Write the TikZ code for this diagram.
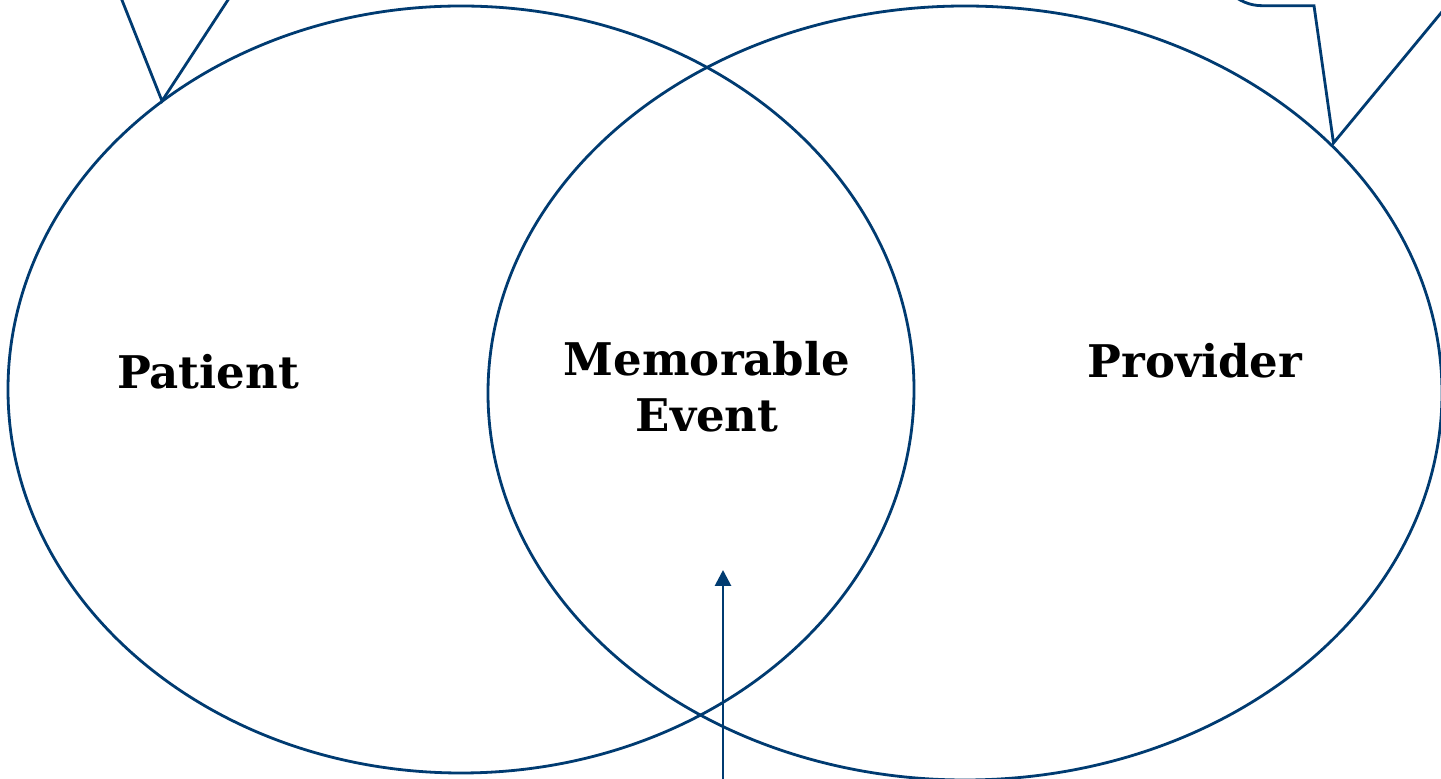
\documentclass[tikz,border=0pt]{standalone}
\usepackage{fontspec}
\setmainfont{DejaVu Serif}
\usepackage{tikz}
\usetikzlibrary{arrows.meta,shapes.geometric}
\definecolor{navy}{HTML}{003B71}
\tikzset{
  >=Latex,
  every node/.style={text=black},
  venn/.style={ellipse,draw=navy,line width=1.4pt,inner sep=0pt,outer sep=0pt},
  vlabel/.style={font=\fontsize{22.5}{28}\selectfont\bfseries,align=center,inner sep=0pt},
  callout/.style={draw=navy,line width=1.4pt,line join=miter},
  arrow/.style={-{Triangle[length=8pt,width=8pt]},line width=1.4pt,draw=navy}
}

\begin{document}
\begin{tikzpicture}[x=0.5pt,y=-0.5pt]
  \fill[white] (0,0) rectangle (1441,779);
  \useasboundingbox (0,0) rectangle (1441,779);
  \clip (0,0) rectangle (1441,779);

  \node[venn,minimum width=453pt,minimum height=383.5pt] (patientset) at (461,389.5) {};
  \node[venn,minimum width=477pt,minimum height=387pt] (providerset) at (965,393) {};

  \node[vlabel,anchor=base] (patient) at (208,389) {Patient};
  \node[vlabel] (event) at (707,387) {Memorable\\Event};
  \node[vlabel,anchor=base] (provider) at (1195,378) {Provider};

  % callout tails, bodies sit above the page
  \coordinate (lefttip) at (162,101);
  \coordinate (leftbaseA) at (114,-20);
  \coordinate (leftbaseB) at (241,-20);
  \draw[callout] (leftbaseA) -- (lefttip) -- (leftbaseB);

  \coordinate (righttip) at (1333.5,143);
  \coordinate (rightside) at (1217,-80);
  \coordinate (rightbaseA) at (1314,5.7);
  \coordinate (rightbaseB) at (1447,5.7);
  \draw[callout] (rightside) -- (1217,-39.3) .. controls (1217,-14.5) and (1237.2,5.7) .. (1262,5.7)
    -- (rightbaseA) -- (righttip) -- (rightbaseB) -- (1500,5.7);

  \coordinate (arrowfoot) at (723,790);
  \coordinate (arrowtip) at (723,570);
  \draw[arrow] (arrowfoot) -- (arrowtip);
\end{tikzpicture}
\end{document}
